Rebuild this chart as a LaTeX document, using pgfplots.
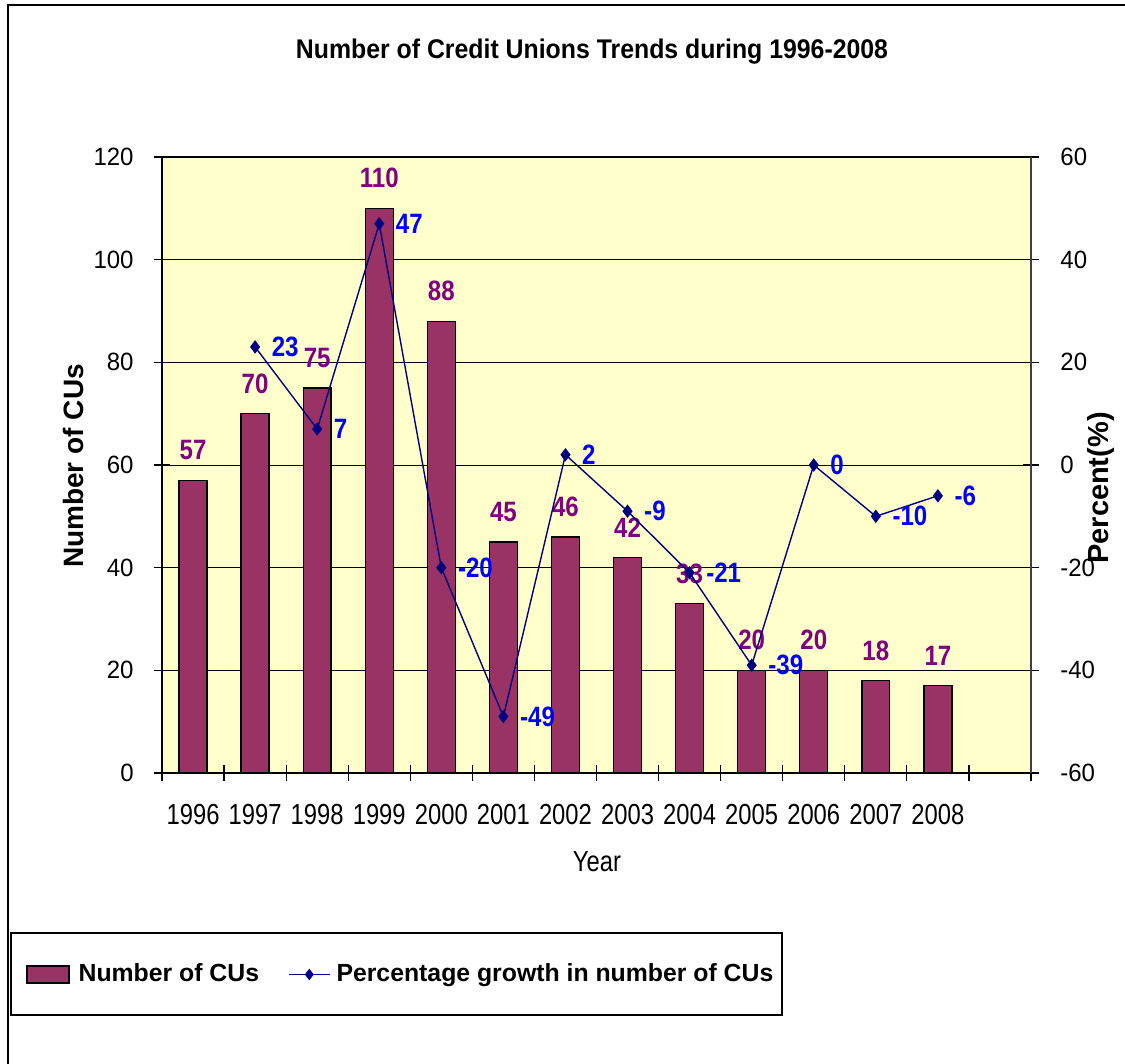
\documentclass[border=0pt]{standalone}
\usepackage{fontspec}
\setmainfont{Liberation Sans}
\newfontfamily\narrowx{Liberation Sans}[FakeStretch=0.82]
\newfontfamily\narrowv{Liberation Sans}[FakeStretch=0.86]
\newfontfamily\narrowt{Liberation Sans}[FakeStretch=0.92]
\newfontfamily\narrowy{Liberation Sans}[FakeStretch=0.96]
\usepackage{pgfplots}
\pgfplotsset{compat=1.18}
\usepackage{pgfplotstable}

\definecolor{plum}{HTML}{993366}
\definecolor{paleyellow}{HTML}{FFFFCC}
\definecolor{navyline}{HTML}{000080}
\definecolor{labelpurple}{HTML}{800080}
\definecolor{labelblue}{HTML}{0000FF}

% number of credit unions per year (x = 0 for 1996)
\pgfplotstableread{
x count lab
0 57 57
1 70 70
2 75 75
3 110 110
4 88 88
5 45 45
6 46 46
7 42 42
8 33 33
9 20 20
10 20 20
11 18 18
12 17 17
}\cutable

% year-on-year growth in percent
\pgfplotstableread{
x pct lab
1 23 23
2 7 7
3 47 47
4 -20 -20
5 -49 -49
6 2 2
7 -9 -9
8 -21 -21
9 -39 -39
10 0 0
11 -10 -10
12 -6 -6
}\growthtable

\newcommand{\xtickfont}{\narrowx\fontsize{14.5}{16}\selectfont}
\newcommand{\ytickfont}{\narrowy\fontsize{12.5}{14}\selectfont}
\newcommand{\valfont}{\narrowv\fontsize{14}{16}\selectfont\bfseries}

\begin{document}
\begin{tikzpicture}
\begin{scope}[x=0.5pt,y=-0.5pt]
  \useasboundingbox (0,0) rectangle (1125,1064);
  \draw[black, line width=0.7pt] (8,5) rectangle (1140,1080);
  \node at (592,52) {\narrowt\fontsize{13.5}{16}\selectfont\bfseries Number of Credit Unions Trends during 1996-2008};
  \node[rotate=90] at (73,466) {\fontsize{14}{16}\selectfont\bfseries Number of CUs};
  \node[rotate=90] at (1101,488) {\fontsize{14.5}{16}\selectfont\bfseries Percent(\%)};
  \node at (597,862) {\xtickfont Year};
  \draw[black, line width=0.6pt] (11,933) rectangle (782,1015);
\end{scope}

\begin{axis}[
  at={(81pt,-386.5pt)}, anchor=south west,
  scale only axis, width=434.5pt, height=308pt,
  xmin=-0.5, xmax=13.5, ymin=0, ymax=120,
  axis background/.style={fill=paleyellow},
  axis line style={black, line width=0.7pt},
  ymajorgrids, grid style={black, line width=0.5pt},
  ytick={0,20,...,120}, yticklabels={0,20,40,60,80,100,120},
  ytick pos=left, xtick pos=bottom,
  tick align=center, major tick length=8pt,
  tick style={black, line width=0.6pt},
  xtick={-0.5,0.5,...,13.5}, xticklabels={},
  extra x ticks={0,...,12},
  extra x tick labels={1996,1997,1998,1999,2000,2001,2002,2003,2004,2005,2006,2007,2008},
  extra x tick style={major tick length=0pt},
  xticklabel style={font=\xtickfont, anchor=base, inner sep=0pt, yshift=-25.5pt},
  yticklabel style={font=\ytickfont, anchor=east, inner sep=0pt, xshift=-10pt},
]
\addplot[ybar, bar width=0.45, fill=plum, draw=black, line width=0.7pt,
  nodes near coords, point meta=explicit symbolic,
  every node near coord/.append style={anchor=center, yshift=15pt,
    text=labelpurple, font=\valfont, inner sep=0pt}]
  table[x=x, y=count, meta=lab] {\cutable};
\end{axis}

\begin{axis}[
  at={(81pt,-386.5pt)}, anchor=south west,
  scale only axis, width=434.5pt, height=308pt,
  xmin=-0.5, xmax=13.5, ymin=-60, ymax=60,
  axis x line=none, axis y line*=right,
  axis line style={black!75, line width=0.7pt},
  ytick={-60,-40,...,60}, yticklabels={-60,-40,-20,0,20,40,60},
  tick align=center, major tick length=8pt,
  tick style={black, line width=0.6pt},
  yticklabel style={font=\ytickfont, anchor=west, inner sep=0pt, xshift=10.5pt},
  legend style={at={(-0.1565,-0.3271)}, anchor=west, draw=none, fill=none,
    inner sep=0pt, font=\fontsize{12.4}{15}\selectfont\bfseries, legend columns=2,
    nodes={inner sep=0pt, anchor=west},
    /tikz/column 1/.style={column sep=4.5pt},
    /tikz/column 2/.style={column sep=14.5pt},
    /tikz/column 3/.style={column sep=3pt}},
  legend cell align=left,
]
\addlegendimage{legend image code/.code={
  \draw[fill=plum, draw=black, line width=0.6pt] (0pt,-4.25pt) rectangle (21pt,4.25pt);}}
\addlegendentry{Number of CUs}
\addlegendimage{legend image code/.code={
  \draw[navyline, line width=0.7pt] (0pt,0pt) -- (20.5pt,0pt);
  \fill[navyline] (10.25pt,2.6pt) -- (12.2pt,0pt) -- (10.25pt,-2.6pt) -- (8.3pt,0pt) -- cycle;}}
\addlegendentry{Percentage growth in number of CUs}
\addplot[navyline, line width=0.7pt, mark=diamond*, mark size=2.8pt,
  mark options={fill=navyline}, forget plot,
  nodes near coords, point meta=explicit symbolic,
  every node near coord/.append style={anchor=west, xshift=8pt,
    text=labelblue, font=\valfont, inner sep=0pt}]
  table[x=x, y=pct, meta=lab] {\growthtable};
\end{axis}
\end{tikzpicture}
\end{document}
